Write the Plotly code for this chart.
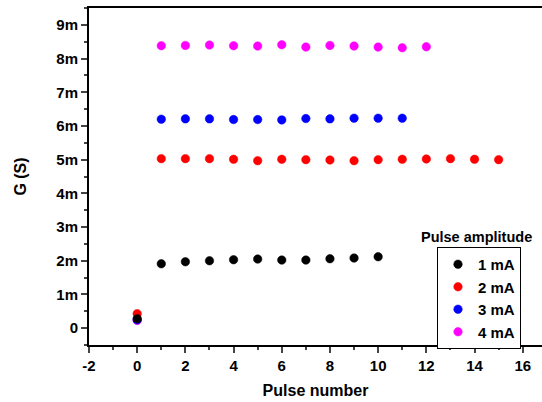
import plotly.graph_objects as go
import numpy as np

# Data (conductance in mS, converted to S)
pulses_1mA = [0, 1, 2, 3, 4, 5, 6, 7, 8, 9, 10]
g_1mA_mS = [0.28, 1.91, 1.97, 2.00, 2.03, 2.05, 2.02, 2.02, 2.06, 2.08, 2.12]

pulses_2mA = [0, 1, 2, 3, 4, 5, 6, 7, 8, 9, 10, 11, 12, 13, 14, 15]
g_2mA_mS = [0.43, 5.03, 5.03, 5.03, 5.01, 4.97, 5.01, 5.00, 4.99, 4.97, 5.00, 5.01, 5.02, 5.03, 5.01, 5.00]

pulses_3mA = [0, 1, 2, 3, 4, 5, 6, 7, 8, 9, 10, 11]
g_3mA_mS = [0.25, 6.20, 6.21, 6.21, 6.19, 6.19, 6.18, 6.22, 6.21, 6.23, 6.23, 6.23]

pulses_4mA = [0, 1, 2, 3, 4, 5, 6, 7, 8, 9, 10, 11, 12]
g_4mA_mS = [0.23, 8.38, 8.39, 8.40, 8.38, 8.37, 8.41, 8.34, 8.39, 8.37, 8.34, 8.32, 8.35]

series_names = ["1 mA", "2 mA", "3 mA", "4 mA"]
series_colors = ["#000000", "#ff0000", "#0000ff", "#ff00ff"]

y_tick_vals_mS = [0, 1, 2, 3, 4, 5, 6, 7, 8, 9]
y_tick_text = ["0", "1m", "2m", "3m", "4m", "5m", "6m", "7m", "8m", "9m"]
x_tick_vals = [-2, 0, 2, 4, 6, 8, 10, 12, 14, 16]
x_tick_text = ["-2", "0", "2", "4", "6", "8", "10", "12", "14", "16"]

FONT = "Arial, Liberation Sans, sans-serif"

fig = go.Figure()
data = [(pulses_1mA, g_1mA_mS), (pulses_2mA, g_2mA_mS), (pulses_3mA, g_3mA_mS), (pulses_4mA, g_4mA_mS)]
traces = []
for (px, gy), name, col in zip(data, series_names, series_colors):
    traces.append(go.Scatter(
        x=px, y=np.array(gy) * 1e-3, mode="markers", name=name,
        marker=dict(size=8.5, color=col, line=dict(width=0.5, color=col)),
    ))
# draw in reverse so black is on top at x=0
for i in [3, 2, 1, 0]:
    fig.add_trace(traces[i])

fig.update_layout(
    width=542, height=402,
    margin=dict(l=89, r=0, t=8, b=57),
    paper_bgcolor="white", plot_bgcolor="white",
    font=dict(family=FONT, color="black", size=13),
    showlegend=True,
    legend=dict(
        x=(437 - 89) / 453, y=(345 - 247) / 337, xanchor="left", yanchor="top",
        bordercolor="black", borderwidth=1, bgcolor="white",
        traceorder="reversed", tracegroupgap=0,
        font=dict(family=FONT, size=15, color="black", weight="bold"),
    ),
    annotations=[dict(
        text="<b>Pulse amplitude</b>",
        x=(476 - 89) / 453, y=(345 - 237) / 337,
        xref="paper", yref="paper", xanchor="center", yanchor="middle",
        showarrow=False, font=dict(family=FONT, size=14.5, color="black"),
    )],
)

fig.update_xaxes(
    range=[-2, 16.8], tickvals=x_tick_vals, ticktext=x_tick_text,
    ticks="outside", ticklen=6, tickwidth=1.5,
    minor=dict(dtick=1, tick0=-2, ticks="outside", ticklen=3, tickwidth=1.5, showgrid=False),
    showline=True, linecolor="black", linewidth=2, mirror=True,
    showgrid=False, zeroline=False,
    tickfont=dict(family=FONT, size=15, weight="bold"),
    title=dict(text="<b>Pulse number</b>", font=dict(family=FONT, size=16), standoff=12),
)
fig.update_yaxes(
    range=[-0.5e-3, 9.5e-3], tickvals=[v * 1e-3 for v in y_tick_vals_mS], ticktext=y_tick_text,
    ticks="outside", ticklen=6, tickwidth=1.5,
    minor=dict(dtick=1e-3, tick0=-0.5e-3, ticks="outside", ticklen=3, tickwidth=1.5, showgrid=False),
    showline=True, linecolor="black", linewidth=2,
    showgrid=False, zeroline=False,
    tickfont=dict(family=FONT, size=15, weight="bold"),
    title=dict(text="<b>G (S)</b>", font=dict(family=FONT, size=16), standoff=26),
)

fig.write_html("out.html")
